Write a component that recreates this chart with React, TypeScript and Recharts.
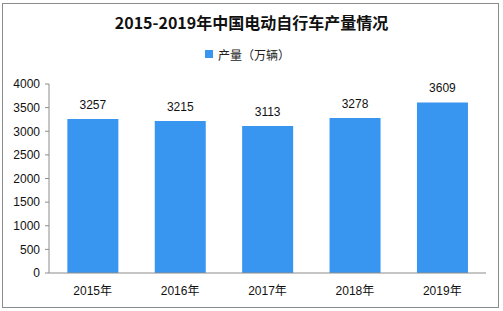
import { BarChart, Bar, XAxis, YAxis, LabelList } from "recharts";

const years = ["2015年", "2016年", "2017年", "2018年", "2019年"];
const output = [3257, 3215, 3113, 3278, 3609];
const yTicks = [0, 500, 1000, 1500, 2000, 2500, 3000, 3500, 4000];

const data = years.map((year, i) => ({ year, output: output[i] }));

const FONT = '"Liberation Sans", "Noto Sans CJK SC", sans-serif';
const BAR_COLOR = "#3895f0";

export default function App() {
  return (
    <div
      style={{
        position: "absolute",
        left: 0,
        top: 0,
        width: 503,
        height: 311,
        background: "#fff",
        fontFamily: FONT,
      }}
    >
      {/* outer frame */}
      <div
        style={{
          position: "absolute",
          left: 2,
          top: 3,
          width: 495,
          height: 303,
          border: "1px solid #8c8c8c",
        }}
      />
      <div
        style={{
          position: "absolute",
          left: 0,
          top: 11,
          width: 503,
          textAlign: "center",
          fontFamily: '"Noto Sans CJK SC", sans-serif',
          fontWeight: 700,
          fontSize: 16,
          lineHeight: "22px",
          color: "#111",
        }}
      >
        2015-2019年中国电动自行车产量情况
      </div>
      {/* legend */}
      <div
        style={{
          position: "absolute",
          left: 205,
          top: 46,
          height: 16,
          display: "flex",
          alignItems: "center",
          fontSize: 12,
          color: "#222",
          fontFamily: '"Noto Sans CJK SC", sans-serif',
        }}
      >
        <span
          style={{
            display: "inline-block",
            width: 8,
            height: 8,
            background: BAR_COLOR,
            marginRight: 5,
          }}
        />
        产量（万辆）
      </div>
      <BarChart
        width={503}
        height={311}
        data={data}
        margin={{ top: 84, right: 17, bottom: 8, left: 0 }}
        barCategoryGap="21%"
        style={{ position: "absolute", left: 0, top: 0 }}
      >
        <XAxis
          dataKey="year"
          height={30}
          tickLine={false}
          tickSize={0}
          tickMargin={13}
          axisLine={{ stroke: "#8c8c8c" }}
          tick={{ fill: "#111", fontSize: 12, fontFamily: FONT }}
        />
        <YAxis
          width={49}
          domain={[0, 4000]}
          ticks={yTicks}
          interval={0}
          tickSize={4}
          tickMargin={5}
          axisLine={{ stroke: "#8c8c8c" }}
          tickLine={{ stroke: "#8c8c8c" }}
          tick={{ fill: "#111", fontSize: 12, fontFamily: FONT }}
        />
        <Bar
          dataKey="output"
          name="产量（万辆）"
          fill={BAR_COLOR}
          isAnimationActive={false}
        >
          <LabelList
            dataKey="output"
            position="top"
            offset={10}
            fill="#111"
            fontSize={12}
            fontFamily={FONT}
          />
        </Bar>
      </BarChart>
    </div>
  );
}
